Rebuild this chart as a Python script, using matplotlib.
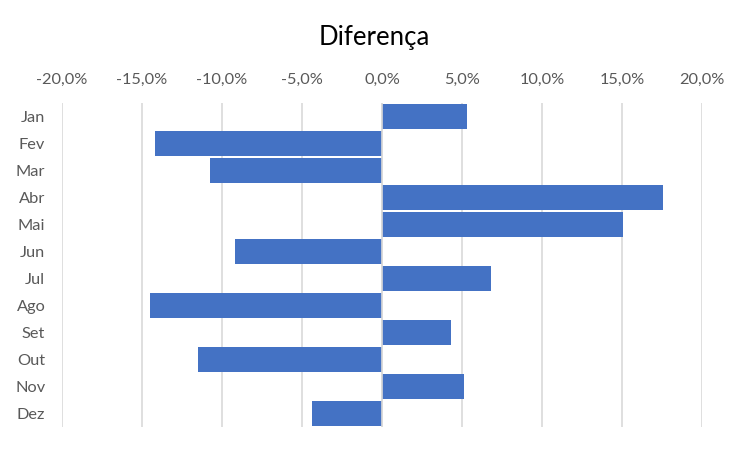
import matplotlib.pyplot as plt
import numpy as np

plt.rcParams['font.family'] = ['Lato', 'DejaVu Sans']

# monthly difference (%)
months = ['Jan', 'Fev', 'Mar', 'Abr', 'Mai', 'Jun', 'Jul', 'Ago', 'Set', 'Out', 'Nov', 'Dez']
diff = [5.33, -14.17, -10.73, 17.58, 15.08, -9.17, 6.81, -14.48, 4.33, -11.48, 5.14, -4.36]
ticks = [-20, -15, -10, -5, 0, 5, 10, 15, 20]

fig = plt.figure(figsize=(7.48, 4.5), dpi=100)
ax = fig.add_axes([62 / 748, 1 - 427 / 450, 640 / 748, 324 / 450])

y = np.arange(len(months))
ax.barh(y, diff, height=0.93, color='#4472C4', zorder=2)
ax.axvline(0, color='#D9D9D9', linewidth=1.2, zorder=3)

ax.set_xlim(-20, 20)
ax.set_ylim(len(months) - 0.5, -0.5)
ax.set_xticks(ticks)
ax.set_xticklabels([f'{t:.1f}%'.replace('.', ',') for t in ticks])
ax.set_yticks(y)
ax.set_yticklabels(months)

ax.xaxis.tick_top()
ax.tick_params(axis='both', length=0, labelsize=11.8, colors='#595959')
ax.tick_params(axis='x', pad=11.5)
ax.tick_params(axis='y', pad=12)
ax.grid(axis='x', color='#D9D9D9', linewidth=1.2, zorder=0)
ax.set_axisbelow(True)
for s in ax.spines.values():
    s.set_visible(False)

fig.text(374 / 748, 1 - 37 / 450, 'Diferença', ha='center', va='center',
         fontsize=18.5, color='#000000')

fig.savefig('out.png', dpi=100)
